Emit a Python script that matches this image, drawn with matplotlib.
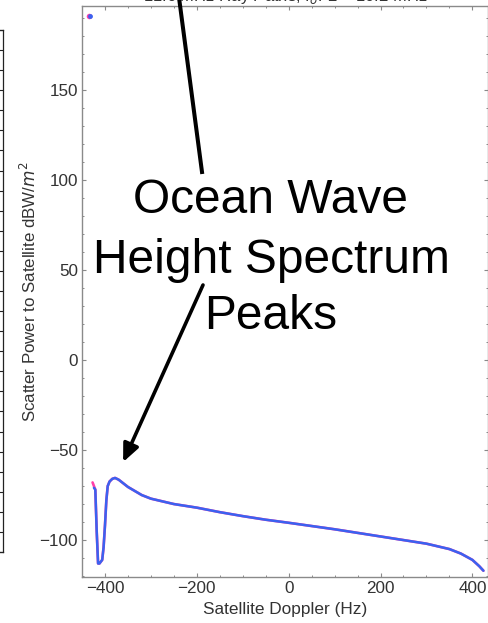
import matplotlib
matplotlib.use("Agg")
import matplotlib.pyplot as plt
from matplotlib.ticker import MultipleLocator
from matplotlib.lines import Line2D

plt.rcParams['font.family'] = ['Liberation Sans', 'DejaVu Sans']

# Scattered power vs. satellite Doppler (two overlapping computations)
doppler_hz = [-424, -421, -418, -415, -412, -406, -403, -400, -397, -394,
              -390, -384, -378, -370, -350, -320, -300, -250, -200, -150,
              -100, -50, 0, 50, 100, 150, 200, 250, 300, 350,
              375, 400, 415, 424]
power_blue = [-71, -72, -95, -113, -113, -111, -104, -92, -78, -70,
              -67.5, -66, -65.5, -66.5, -70.5, -75, -77, -80, -82, -84.5,
              -86.7, -88.7, -90.4, -92.2, -94, -96, -98, -100, -102, -105,
              -107.5, -111, -114.5, -117]

doppler_hz_pink = [-427, -424] + doppler_hz[1:]
power_pink = [-68, -70] + power_blue[1:]

# isolated point near the top-left corner
dot_x = [-433]
dot_y = [191]

title_text = "11.6 MHz Ray Paths, f$_o$F2 = 10.2 MHz"
xlabel_text = "Satellite Doppler (Hz)"
ylabel_text = "Scatter Power to Satellite dBW/$m^2$"
note_lines = ["Ocean Wave", "Height Spectrum", "Peaks"]

W, H = 489, 623
fig = plt.figure(figsize=(W / 100, H / 100), dpi=100)
fig.patch.set_facecolor('white')

def fx(px):
    return px / W

def fy(py):
    return 1 - py / H

# fragment of a neighbouring framed panel at the left edge
side = fig.add_axes([fx(-60), fy(552), fx(63), fy(30) - fy(552)])
side.set_xlim(0, 1)
side.set_ylim(0, 26)
side.yaxis.set_major_locator(MultipleLocator(1))
side.yaxis.tick_right()
side.tick_params(axis='y', direction='in', length=3, width=0.8, color='#222222',
                 labelright=False, labelleft=False)
side.set_xticks([])
for s in side.spines.values():
    s.set_color('#222222')
    s.set_linewidth(0.9)

ax = fig.add_axes([fx(82), fy(577), fx(488) - fx(82), fy(6) - fy(577)])
ax.set_xlim(-450, 434)
ax.set_ylim(-120.5, 196.5)

spine_col = '#8a8a8a'
for s in ax.spines.values():
    s.set_color(spine_col)
    s.set_linewidth(1.0)

ax.xaxis.set_major_locator(MultipleLocator(200))
ax.xaxis.set_minor_locator(MultipleLocator(50))
ax.yaxis.set_major_locator(MultipleLocator(50))
ax.yaxis.set_minor_locator(MultipleLocator(10))
ax.tick_params(which='both', direction='in', top=True, right=True,
               color=spine_col, labelcolor='#333333', labelsize=12.3)
ax.tick_params(which='major', length=3.2, width=0.8, pad=3)
ax.tick_params(which='minor', length=1.7, width=0.7)

ax.plot(doppler_hz_pink, power_pink, color='#ff3fa8', lw=1.9,
        solid_capstyle='round', zorder=2)
ax.plot(doppler_hz, power_blue, color='#3a62f0', lw=1.8,
        solid_capstyle='round', zorder=3)
ax.scatter([dot_x[0] - 0.8], dot_y, s=16, color='#ff3fa8', zorder=3, lw=0)
ax.scatter([dot_x[0] + 0.8], dot_y, s=12, color='#3a62f0', zorder=4, lw=0)

ax.set_title(title_text, fontsize=12, color='#333333', pad=2)
ax.set_xlabel(xlabel_text, fontsize=12.4, color='#333333', labelpad=4)
ax.set_ylabel(ylabel_text, fontsize=12.2, color='#333333', labelpad=0)

# large annotation text
baselines = [213, 273, 329]
for line, by in zip(note_lines, baselines):
    fig.text(fx(271), fy(by), line, ha='center', va='baseline',
             fontsize=34.5, color='black')

# pointer running up toward the title
fig.add_artist(Line2D([fx(178), fx(202)], [fy(-10), fy(172)],
                      transform=fig.transFigure, color='black', lw=2.9))

# arrow down to the spectrum peak
ax.annotate('', xy=(-360.5, -56.7), xycoords='data',
            xytext=(fx(203), fy(285)), textcoords='figure fraction',
            arrowprops=dict(arrowstyle='-|>,head_length=0.45,head_width=0.2',
                            mutation_scale=24, lw=2.6, color='black',
                            shrinkA=0, shrinkB=0))

fig.savefig('out.png', dpi=100)
